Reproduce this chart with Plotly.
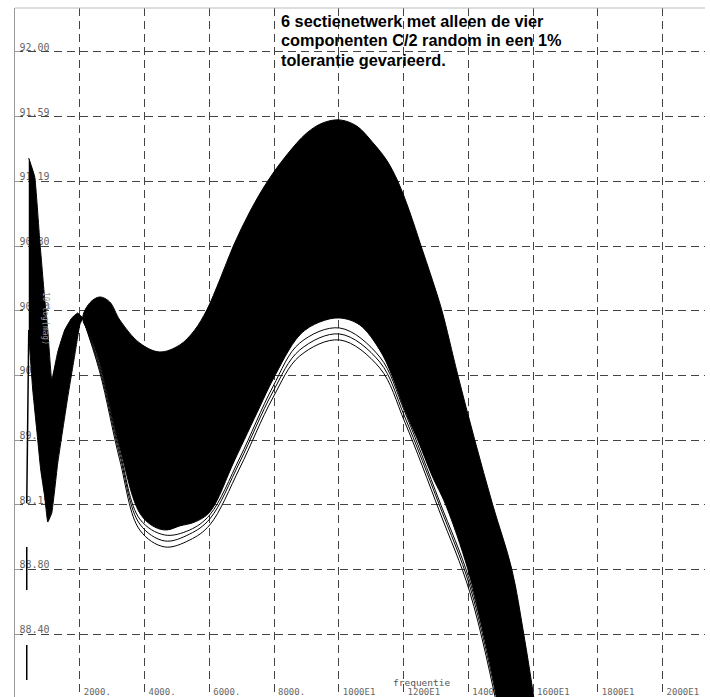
import plotly.graph_objects as go

# ---- data (frequency in Hz, value in 10*log(mag)) ----
# envelope of the curve bundle, low-frequency part (up to the common node near 2 kHz)
left_upper_freq = [425, 610, 764, 919, 1012, 1135, 1320, 1536, 1753, 1938, 2092]
left_upper_val = [91.344, 91.227, 90.837, 90.466, 90.281, 89.972, 90.145, 90.281, 90.355,
                  90.386, 90.355]
left_lower_freq = [425, 548, 672, 795, 919, 1012, 1135, 1320, 1629, 1845, 2000, 2092]
left_lower_val = [90.250, 89.910, 89.662, 89.415, 89.248, 89.093, 89.149, 89.458, 89.866,
                  90.126, 90.312, 90.355]

# envelope of the curve bundle, from the node onwards
upper_freq = [2092, 2309, 2617, 2926, 3235, 3852, 4470, 5088, 5551, 5922,
              6323, 6756, 7250, 7806, 8393, 9010, 9504, 10029, 10554, 11048,
              11481, 11820, 12191, 12531, 12871, 13180, 13674, 14198, 14754, 15341,
              15712, 16021, 16206]
upper_val = [90.355, 90.448, 90.485, 90.454, 90.343, 90.200, 90.145, 90.188, 90.281, 90.404,
             90.590, 90.806, 91.011, 91.202, 91.363, 91.499, 91.561, 91.580, 91.542, 91.440,
             91.330, 91.202, 91.011, 90.806, 90.602, 90.404, 90.003, 89.601, 89.199, 88.803,
             88.401, 88.011, 87.745]
lower_freq = [2092, 2309, 2617, 3235, 3852, 4316, 4687, 5088, 5551, 6015,
              6786, 7559, 7960, 8794, 9412, 10029, 10647, 11265, 11635, 12037,
              12438, 12871, 13303, 13983, 14477, 14878, 15063]
lower_val = [90.355, 90.250, 90.077, 89.557, 89.149, 89.062, 89.044, 89.069, 89.093, 89.155,
             89.477, 89.805, 89.972, 90.250, 90.330, 90.355, 90.312, 90.157, 90.003, 89.786,
             89.601, 89.384, 89.199, 88.803, 88.401, 88.011, 87.745]

# a few separate low curves under the bundle
outlier_freq = [2092, 2617, 3235, 3852, 4624, 5397, 6015, 6941, 7960, 8794,
                10029, 11265, 12037, 13118, 14044, 14971, 15434]
outlier1_val = [90.355, 90.021, 89.477, 89.044, 88.939, 88.982, 89.075, 89.427, 89.860, 90.120,
                90.219, 90.046, 89.712, 89.155, 88.661, 87.881, 87.436]
outlier2_val = [90.355, 90.040, 89.508, 89.081, 88.976, 89.019, 89.112, 89.464, 89.897, 90.157,
                90.256, 90.083, 89.743, 89.192, 88.698, 87.918, 87.473]
outlier3_val = [90.355, 90.058, 89.533, 89.112, 89.013, 89.044, 89.137, 89.489, 89.928, 90.200,
                90.293, 90.114, 89.774, 89.217, 88.729, 87.949, 87.510]

# start-up segments at the lowest frequency
start_freq = [425, 363, None, 363, 363, None, 363, 363]
start_val = [90.281, 89.211, None, 88.939, 88.673, None, 88.333, 88.116]

x_ticks = [2000, 4000, 6000, 8000, 10000, 12000, 14000, 16000, 18000, 20000]
x_labels = ["2000.", "4000.", "6000.", "8000.", "1000E1", "1200E1", "1400E1",
            "1600E1", "1800E1", "2000E1"]
y_ticks = [88.4, 88.8, 89.2, 89.6, 90.0, 90.4, 90.8, 91.2, 91.6, 92.0]
y_labels = ["88.40", "88.80", "89.19", "89.60", "90.00", "90.40", "90.80",
            "91.19", "91.59", "92.00"]

title_lines = ["6 sectienetwerk met alleen de vier",
               "componenten C/2 random in een 1%",
               "tolerantie gevarieerd."]

fig = go.Figure()

fig.add_trace(go.Scatter(
    x=left_upper_freq + left_lower_freq[::-1], y=left_upper_val + left_lower_val[::-1],
    mode="lines", fill="toself", fillcolor="black",
    line=dict(color="black", width=1, shape="spline", smoothing=0.3),
    hoverinfo="skip", showlegend=False))

fig.add_trace(go.Scatter(
    x=upper_freq + lower_freq[::-1], y=upper_val + lower_val[::-1],
    mode="lines", fill="toself", fillcolor="black",
    line=dict(color="black", width=1, shape="spline", smoothing=1.0),
    hoverinfo="skip", showlegend=False))

for vals in (outlier1_val, outlier2_val, outlier3_val):
    fig.add_trace(go.Scatter(
        x=outlier_freq, y=vals, mode="lines",
        line=dict(color="black", width=1, shape="spline", smoothing=1.0),
        hoverinfo="skip", showlegend=False))

fig.add_trace(go.Scatter(
    x=start_freq, y=start_val, mode="lines", connectgaps=False,
    line=dict(color="black", width=1.5),
    hoverinfo="skip", showlegend=False))

fig.update_xaxes(
    range=[0, 21310], tickvals=x_ticks, ticktext=x_labels,
    ticklabelposition="inside right", ticklabelshift=4, ticklabelstandoff=-6,
    tickfont=dict(family="DejaVu Sans Mono", size=9, color="#666"),
    showgrid=True, gridcolor="#444", gridwidth=1, griddash="8px,5px",
    zeroline=False, showline=False, ticks="", layer="below traces")

fig.update_yaxes(
    range=[88.011, 92.272], tickvals=y_ticks, ticktext=y_labels,
    ticklabelposition="inside top", ticklabelshift=3, ticklabelstandoff=3,
    tickfont=dict(family="DejaVu Sans Mono", size=10, color="#666"),
    showgrid=True, gridcolor="#444", gridwidth=1, griddash="8px,5px",
    zeroline=False, showline=True, linecolor="#999", linewidth=1,
    ticks="inside", ticklen=5, tickcolor="#999", layer="below traces")

fig.add_shape(type="line", xref="paper", yref="paper", x0=0, x1=1, y0=1, y1=1,
              line=dict(color="#bbb", width=1))

for i, line in enumerate(title_lines):
    fig.add_annotation(text=line, xref="paper", yref="paper",
                       x=0.3826, y=(697 - 21 - 19.5 * i) / 689,
                       xanchor="left", yanchor="middle", align="left",
                       showarrow=False,
                       font=dict(family="Liberation Sans", size=16.3, color="black",
                                 weight="bold"))

fig.add_annotation(text="frequentie", xref="paper", yref="paper",
                   x=(391 - 15) / 690, y=(697 - 682) / 689, xanchor="left", yanchor="middle",
                   showarrow=False,
                   font=dict(family="DejaVu Sans Mono", size=9.5, color="#555"))

fig.add_annotation(text="10*log(mag)", xref="paper", yref="paper",
                   x=0.045, y=0.55, xanchor="center", yanchor="middle",
                   textangle=90, showarrow=False,
                   font=dict(family="DejaVu Sans Mono", size=8, color="#999"))

fig.update_layout(
    width=710, height=697,
    margin=dict(l=15, r=5, t=8, b=0),
    plot_bgcolor="white", paper_bgcolor="white",
    showlegend=False)

fig.write_html("out.html")
